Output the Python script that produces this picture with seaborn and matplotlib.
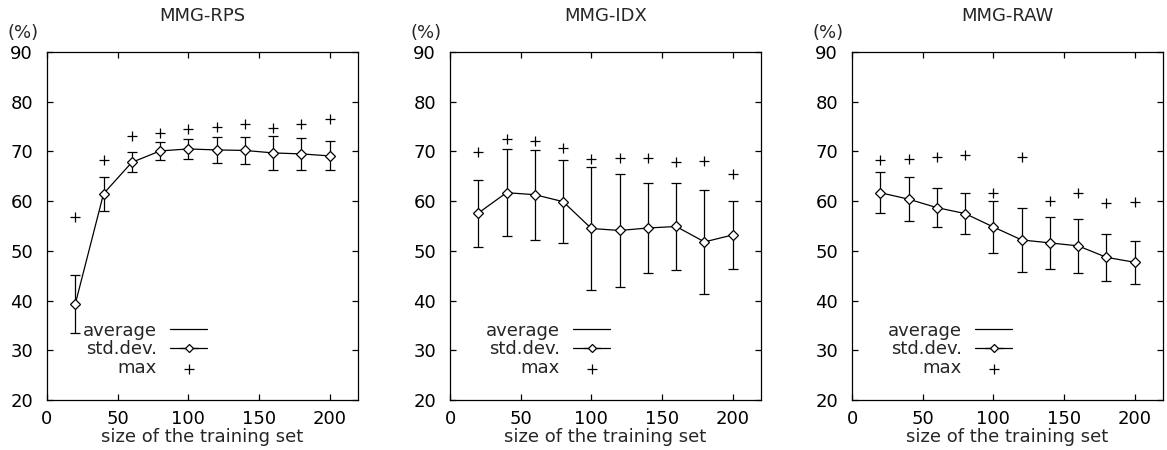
import numpy as np
import pandas as pd
import matplotlib
matplotlib.use("Agg")
import matplotlib.pyplot as plt
import seaborn as sns

# training set sizes
sizes = [20, 40, 60, 80, 100, 120, 140, 160, 180, 200]

panel_titles = ["MMG-RPS", "MMG-IDX", "MMG-RAW"]

# average accuracy (%)
rps_avg = [39.3, 61.5, 67.8, 70.1, 70.5, 70.3, 70.2, 69.7, 69.5, 69.1]
idx_avg = [57.6, 61.7, 61.3, 59.9, 54.5, 54.1, 54.6, 54.9, 51.8, 53.2]
raw_avg = [61.7, 60.4, 58.7, 57.5, 54.8, 52.2, 51.6, 51.0, 48.7, 47.7]

# standard deviation
rps_std = [5.9, 3.45, 2.0, 1.75, 2.0, 2.55, 2.8, 3.4, 3.15, 2.9]
idx_std = [6.75, 8.75, 9.05, 8.3, 12.3, 11.4, 9.0, 8.65, 10.4, 6.8]
raw_std = [4.15, 4.45, 3.9, 4.15, 5.2, 6.4, 5.3, 5.5, 4.7, 4.3]

# max accuracy
rps_max = [56.9, 68.2, 73.2, 73.7, 74.5, 75.0, 75.5, 74.7, 75.6, 76.5]
idx_max = [69.9, 72.5, 72.0, 70.6, 68.5, 68.6, 68.6, 67.8, 68.1, 65.5]
raw_max = [68.3, 68.5, 68.9, 69.2, 61.7, 68.9, 60.0, 61.7, 59.7, 59.9]

x_ticks = [0, 50, 100, 150, 200]
y_ticks = [20, 30, 40, 50, 60, 70, 80, 90]

sns.set_style("ticks")
plt.rcParams['font.family'] = ['DejaVu Sans']
plt.rcParams['font.size'] = 13

FS = 13

fig = plt.figure(figsize=(11.67, 4.5), dpi=100)
lefts = [47 / 1167, 450 / 1167, 852 / 1167]
ax_w = 311 / 1167
ax_b = 50 / 450
ax_h = 348 / 450

series = [(rps_avg, rps_std, rps_max), (idx_avg, idx_std, idx_max), (raw_avg, raw_std, raw_max)]

for i, (avg, std, mx) in enumerate(series):
    ax = fig.add_axes([lefts[i], ax_b, ax_w, ax_h])
    df = pd.DataFrame({'size': sizes, 'avg': avg, 'std': std, 'max': mx})

    sns.lineplot(data=df, x='size', y='avg', ax=ax, color='black', lw=0.9, label='average')
    ax.errorbar(df['size'], df['avg'], yerr=df['std'], fmt='D', mfc='white', mec='black',
                ms=5, mew=0.9, ecolor='black', elinewidth=0.9, capsize=3.5, capthick=0.9, zorder=3)
    # proxy for the legend sample (horizontal error bar like gnuplot)
    ax.errorbar([], [], xerr=[], fmt='D-', mfc='white', mec='black', color='black',
                ms=4.5, mew=0.9, ecolor='black', elinewidth=0.9, lw=0.9, capsize=3,
                capthick=0.9, label='std.dev.')
    sns.scatterplot(data=df, x='size', y='max', ax=ax, marker='+', color='black', s=45,
                    linewidth=0.9, label='max')

    ax.set_xlim(0, 220)
    ax.set_ylim(20, 90)
    ax.set_xticks(x_ticks)
    ax.set_yticks(y_ticks)
    ax.tick_params(direction='in', top=True, right=True, length=4, width=0.9,
                   labelsize=FS, colors='black')
    ax.tick_params(axis='x', pad=7)
    ax.tick_params(axis='y', pad=10)
    for sp in ax.spines.values():
        sp.set_linewidth(0.9)
        sp.set_color('black')
    ax.set_xlabel('size of the training set', fontsize=FS, labelpad=0)
    ax.set_ylabel('')
    ax.set_title(panel_titles[i], fontsize=FS, pad=22)
    ax.text(-0.026, 1.055, '(%)', transform=ax.transAxes, ha='right', va='center', fontsize=FS)

    handles, labels = ax.get_legend_handles_labels()
    order = [labels.index(l) for l in ['average', 'std.dev.', 'max']]
    ax.legend([handles[k] for k in order], [labels[k] for k in order],
              loc='lower right', bbox_to_anchor=(0.515, 0.065), frameon=False,
              markerfirst=False, fontsize=FS, handlelength=2.05, handletextpad=0.75,
              labelspacing=0.05, borderaxespad=0, borderpad=0)

fig.savefig('out.png', dpi=100)
